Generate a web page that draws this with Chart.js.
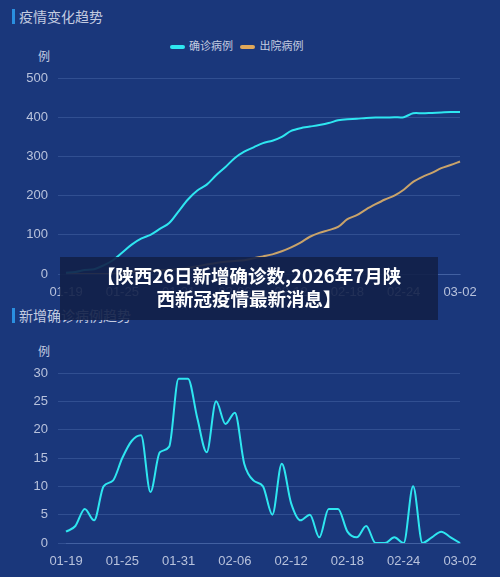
<!DOCTYPE html>
<html><head><meta charset="utf-8">
<script src="https://cdn.jsdelivr.net/npm/chart.js@4"></script>
<style>
body{margin:0;width:500px;height:577px;background:#1a377b;font-family:"Noto Sans CJK SC","Noto Sans",sans-serif;overflow:hidden;position:relative}
.t{position:absolute;left:12px;color:#c3cbe0;font-size:14px;border-left:3px solid #2a8fe0;padding-left:4px;line-height:15px}
.u{position:absolute;left:38px;color:#c3cbe0;font-size:12px}
.lg{position:absolute;top:37px;left:170px;color:#c3cbe0;font-size:11px}
.lg i{display:inline-block;width:15px;height:4px;border-radius:2px;vertical-align:middle;margin:0 4px 0 0}
canvas{position:absolute;left:0}
#ban{position:absolute;left:60px;top:257px;width:378px;height:63px;background:rgba(18,32,72,.9);color:#fff;font-weight:bold;font-size:18.5px;text-align:center;line-height:23px;padding-top:7px;box-sizing:border-box;z-index:5}
</style></head><body>
<div class="t" style="top:9px">疫情变化趋势</div>
<div class="lg"><i style="background:#2ee6f0"></i>确诊病例 &nbsp;&nbsp;<i style="background:#e0a85a"></i>出院病例</div>
<div class="u" style="top:47px">例</div>
<div style="position:absolute;top:60px;left:0;width:500px;height:240px"><canvas id="c1"></canvas></div>
<div class="t" style="top:308px">新增确诊病例趋势</div>
<div class="u" style="top:342px">例</div>
<div style="position:absolute;top:355px;left:0;width:500px;height:214px"><canvas id="c2"></canvas></div>
<div id="ban">【陕西26日新增确诊数,2026年7月陕<br>西新冠疫情最新消息】</div>
<script>
const dates = [];
const labelsJan = ["01-19","01-20","01-21","01-22","01-23","01-24","01-25","01-26","01-27","01-28","01-29","01-30","01-31"];
const labelsFeb = ["02-01","02-02","02-03","02-04","02-05","02-06","02-07","02-08","02-09","02-10","02-11","02-12","02-13","02-14","02-15","02-16","02-17","02-18","02-19","02-20","02-21","02-22","02-23","02-24","02-25","02-26","02-27","02-28"];
const labelsMar = ["03-01","03-02"];
dates.push(...labelsJan, ...labelsFeb, ...labelsMar);

const confirmed = [3,5,10,12,22,35,55,75,90,100,115,130,160,190,213,228,252,273,296,312,323,334,340,350,365,372,376,380,385,392,395,396,398,399,399,400,400,410,410,411,412,413,413];
const discharged = [0,0,0,0,0,0,3,5,7,8,10,11,13,16,20,24,28,31,33,35,40,45,50,58,68,80,95,105,112,120,140,150,165,178,190,200,215,235,248,258,270,278,287];
const newCases = [2,3,6,4,10,11,15,18,19,9,16,17,29,29,22,16,25,21,23,14,11,10,5,14,7,4,5,1,6,6,2,1,3,0,0,1,0,10,0,1,2,1,0];

const tickCol = '#b8c2dc', gridCol = 'rgba(120,150,210,0.25)';
function opts(max, step){
  return {
    responsive:true, maintainAspectRatio:false, animation:false,
    layout:{padding:{top:18,right:40}},
    plugins:{legend:{display:false},tooltip:{enabled:false}},
    elements:{point:{radius:0}},
    scales:{
      x:{grid:{display:false},border:{color:gridCol},
         ticks:{color:tickCol,font:{size:13},maxRotation:0,autoSkip:false,
           callback:function(v,i){return i%6===0?this.getLabelForValue(v):null;}},
         afterFit(a){a.height=26;}},
      y:{min:0,max:max,grid:{color:gridCol},border:{display:false},
         ticks:{stepSize:step,color:tickCol,font:{size:13},padding:10},
         afterFit(a){a.width=66;}}
    }
  };
}
new Chart(document.getElementById('c1'),{type:'line',
  data:{labels:dates,datasets:[
    {data:confirmed,borderColor:'#2ee6f0',borderWidth:2,tension:0.3},
    {data:discharged,borderColor:'#c9a36a',borderWidth:2,tension:0.3}]},
  options:opts(500,100)});
new Chart(document.getElementById('c2'),{type:'line',
  data:{labels:dates,datasets:[
    {data:newCases,borderColor:'#2ee6f0',borderWidth:2,cubicInterpolationMode:'monotone'}]},
  options:opts(30,5)});
</script></body></html>
